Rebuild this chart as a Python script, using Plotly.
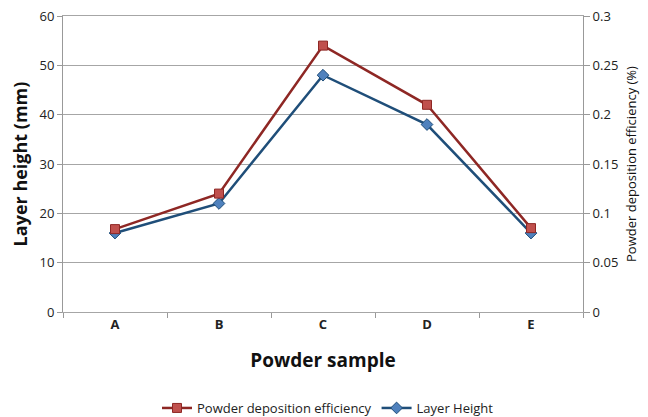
import plotly.graph_objects as go

categories = ["A", "B", "C", "D", "E"]
layer_height = [16, 22, 48, 38, 16]
deposition_eff = [0.084, 0.12, 0.27, 0.21, 0.085]

FONT = "Open Sans"

fig = go.Figure()
fig.add_trace(go.Scatter(
    x=categories, y=deposition_eff, name="Powder deposition efficiency",
    yaxis="y2", mode="lines+markers",
    line=dict(color="#8E2724", width=2.5),
    marker=dict(symbol="square", size=9, color="#C0504D", line=dict(color="#8E2724", width=1)),
))
fig.add_trace(go.Scatter(
    x=categories, y=layer_height, name="Layer Height",
    mode="lines+markers",
    line=dict(color="#1F4E79", width=2.5),
    marker=dict(symbol="diamond", size=9, color="#4F81BD", line=dict(color="#1F4E79", width=1)),
))

fig.update_layout(
    width=640, height=409,
    margin=dict(l=55, r=65, t=8, b=105, autoexpand=False),
    paper_bgcolor="white", plot_bgcolor="white",
    font=dict(family=FONT, size=13, color="#222"),
    xaxis=dict(
        type="category", range=[-0.5, 4.5], automargin=False,
        showline=True, mirror=True, linecolor="#A6A6A6", linewidth=1,
        ticks="outside", tickson="boundaries", ticklen=5, tickcolor="#999",
        tickfont=dict(family=FONT, size=13, color="#222", weight="bold"),
        title=dict(text="<b>Powder sample</b>", font=dict(family=FONT, size=19, color="#111"), standoff=22),
        showgrid=False, zeroline=False,
    ),
    yaxis=dict(
        range=[0, 60], dtick=10, automargin=False, ticklabeloverflow="allow",
        showline=True, linecolor="#999", linewidth=1,
        ticks="outside", ticklen=5, tickcolor="#999",
        showgrid=True, gridcolor="#A6A6A6", gridwidth=1, zeroline=False,
        tickfont=dict(family=FONT, size=13, color="#222"),
        title=dict(text="<b>Layer height (mm)</b>", font=dict(family=FONT, size=18, color="#111"), standoff=10),
    ),
    yaxis2=dict(
        range=[0, 0.3], dtick=0.05, overlaying="y", side="right", automargin=False,
        ticklabeloverflow="allow",
        showline=True, linecolor="#999", linewidth=1,
        ticks="outside", ticklen=6, tickcolor="#999",
        showgrid=False, zeroline=False,
        tickfont=dict(family=FONT, size=13, color="#222"),
        title=dict(text="Powder deposition efficiency (%)", font=dict(family=FONT, size=13, color="#111"), standoff=9),
    ),
    legend=dict(
        orientation="h", x=0.5, xanchor="center", xref="container",
        y=0.022, yanchor="middle", yref="container",
        font=dict(family=FONT, size=13, color="#222"),
        tracegroupgap=0,
    ),
    showlegend=True,
)

fig.write_html("out.html")
